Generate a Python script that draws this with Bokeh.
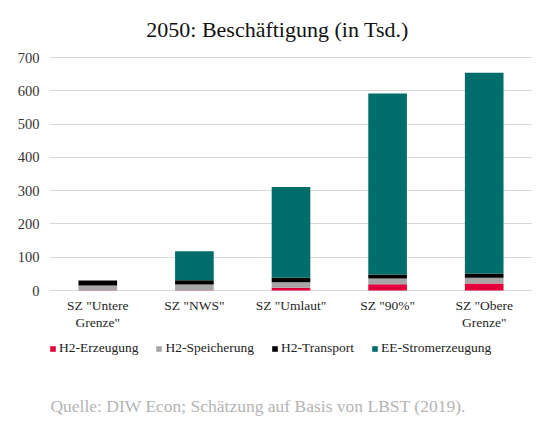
from bokeh.plotting import figure
from bokeh.models import ColumnDataSource, FactorRange, Legend, LegendItem, Label, Range1d
from bokeh.core.properties import value
from bokeh.embed import file_html
from bokeh.resources import INLINE

categories = ['SZ "Untere Grenze"', 'SZ "NWS"', 'SZ "Umlaut"', 'SZ "90%"', 'SZ "Obere Grenze"']
category_labels = ['SZ "Untere\nGrenze"', 'SZ "NWS"', 'SZ "Umlaut"', 'SZ "90%"', 'SZ "Obere\nGrenze"']
h2_erzeugung = [1, 1, 8, 19, 21]
h2_speicherung = [14, 17, 17, 17, 17]
h2_transport = [15, 13, 13, 12, 13]
ee_strom = [0, 87, 273, 544, 603]
series = ["H2-Erzeugung", "H2-Speicherung", "H2-Transport", "EE-Stromerzeugung"]
legend_labels = ["H2-Erzeugung", "H2-Speicherung", "H2-Transport", "EE-Stromerzeugung"]
colors = ["#e3003b", "#a6a6a6", "#000000", "#006d6d"]
y_ticks = [0, 100, 200, 300, 400, 500, 600, 700]
title_text = "2050: Beschäftigung (in Tsd.)"
source_text = "Quelle: DIW Econ; Schätzung auf Basis von LBST (2019)."

source = ColumnDataSource(dict(cat=categories, **{
    "H2-Erzeugung": h2_erzeugung,
    "H2-Speicherung": h2_speicherung,
    "H2-Transport": h2_transport,
    "EE-Stromerzeugung": ee_strom,
}))

SERIF = "Liberation Serif"
U = 700 / 233.0  # data units per pixel on the y scale

p = figure(x_range=FactorRange(*categories, range_padding=0),
           y_range=Range1d(-132 * U, 290 * U),
           width=532, height=422, output_backend="svg", toolbar_location=None,
           x_axis_location=None,
           min_border_left=49, min_border_right=0, min_border_top=0, min_border_bottom=0)

renderers = p.vbar_stack(series, x="cat", width=0.4, color=colors, source=source, line_width=0)

p.outline_line_color = None
p.xgrid.grid_line_color = None
p.ygrid.ticker = y_ticks
p.ygrid.grid_line_color = "#d9d9d9"
p.ygrid.grid_line_width = 1

p.yaxis.ticker = y_ticks
p.yaxis.axis_line_color = None
p.yaxis.major_tick_line_color = None
p.yaxis.minor_tick_line_color = None
p.yaxis.major_tick_out = 0
p.yaxis.major_tick_in = 0
p.yaxis.major_label_text_font = SERIF
p.yaxis.major_label_text_font_size = "14.5px"
p.yaxis.major_label_text_color = "#333333"
p.yaxis.major_label_standoff = 10

# category labels (two-line) under the bars
p.text(x=categories, y=[-7 * U] * len(categories), text=category_labels,
       text_align="center", text_baseline="top", text_font=value(SERIF),
       text_font_size="13.5px", text_color="#262626", text_line_height=1.15)

# title
p.add_layout(Label(x=2.36, y=261 * U, text=title_text, text_align="center",
                   text_baseline="middle", text_font=SERIF, text_font_size="22px",
                   text_color="#111111"))

# source
p.add_layout(Label(x=0.01, y=-115 * U, text=source_text, text_align="left",
                   text_baseline="middle", text_font=SERIF, text_font_size="17.5px",
                   text_color="#b4b4b4"))

legend = Legend(items=[LegendItem(label=l, renderers=[r]) for l, r in zip(legend_labels, renderers)],
                orientation="horizontal", location=(0, 66),
                label_text_font=SERIF, label_text_font_size="13.5px", label_text_color="#222222",
                glyph_width=7, glyph_height=7, spacing=17, label_standoff=3,
                border_line_color=None, background_fill_alpha=0, padding=0, margin=0)
p.add_layout(legend, "center")

open("out.html", "w").write(file_html(p, INLINE))
